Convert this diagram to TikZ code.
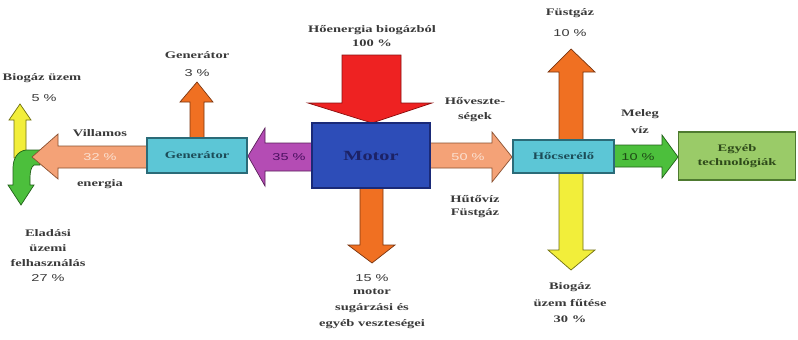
\documentclass[tikz,border=0pt]{standalone}
\usepackage{fontspec}
\setmainfont{Liberation Serif}
\newfontfamily\pctfont{Liberation Sans}
\usepackage{xcolor}
\usepackage{tikz}
\usetikzlibrary{positioning}

\definecolor{txtgray}{HTML}{3A3A3A}
\definecolor{motorblue}{HTML}{2D4DB8}
\definecolor{motorline}{HTML}{1A2A78}
\definecolor{motortxt}{HTML}{1C2266}
\definecolor{redarr}{HTML}{EE2222}
\definecolor{redline}{HTML}{8B1010}
\definecolor{purplearr}{HTML}{B44CB4}
\definecolor{purpleline}{HTML}{5A205A}
\definecolor{purpletxt}{HTML}{4A1060}
\definecolor{cyanbox}{HTML}{5CC6D6}
\definecolor{cyanline}{HTML}{2B6B78}
\definecolor{cyantxt}{HTML}{1C4C58}
\definecolor{salmon}{HTML}{F4A277}
\definecolor{salmonline}{HTML}{8A5030}
\definecolor{salmontxt}{HTML}{FBE0D0}
\definecolor{orangearr}{HTML}{F07022}
\definecolor{orangeline}{HTML}{7A3510}
\definecolor{yellowarr}{HTML}{F2EE3A}
\definecolor{yellowline}{HTML}{707010}
\definecolor{greenarr}{HTML}{4CBF3C}
\definecolor{greenline}{HTML}{206018}
\definecolor{greentxt}{HTML}{1E4A16}
\definecolor{egyebbox}{HTML}{9ACB68}
\definecolor{egyebline}{HTML}{4E7A30}
\definecolor{egyebtxt}{HTML}{2E4A1A}

\begin{document}
\begin{tikzpicture}[x=1pt, y=-1pt,
  stretch/.style={xscale=1.45},
  lbl/.style={stretch, font=\bfseries\fontsize{10}{15}\selectfont, text=txtgray, align=center, inner sep=0pt},
  pct/.style={stretch, font=\pctfont\fontsize{10}{12}\selectfont, text=txtgray, inner sep=0pt},
  box/.style={stretch, draw, line width=1.3pt, inner sep=0pt, align=center, font=\bfseries\fontsize{10}{14}\selectfont},
  blk/.style={line width=0.7pt, line join=miter}]
  \useasboundingbox[fill=white] (0,0) rectangle (798,340);

  % ---- left: split of the electric energy
  \draw[blk, draw=yellowline, fill=yellowarr] (14,158) -- (14,120) -- (9,120) -- (20,104) -- (31,120) -- (26,120) -- (26,158) -- cycle;
  \draw[blk, draw=greenline, fill=greenarr] (13,185) -- (13,168) .. controls (13,158) and (18,151) .. (26,150) -- (40,150) -- (40,165)
    -- (34,165) .. controls (31,167) and (30,172) .. (30,178) -- (30,185) -- (34,185) -- (21,205) -- (8,185) -- cycle;
  \draw[blk, draw=salmonline, fill=salmon] (147,146) -- (58,146) -- (58,134) -- (32,157) -- (58,179) -- (58,168) -- (147,168) -- cycle;
  \node[lbl] (bioz) at (42,78) {Biogáz üzem};
  \node[pct] (pct5) at (44,98) {5 \%};
  \node[lbl] (villamos) at (100,133) {Villamos};
  \node[pct, text=salmontxt] (pct32) at (100,157) {32 \%};
  \node[lbl] (energia) at (100,184) {energia};
  \node[lbl] (eladasi) at (48,248) {Eladási\\üzemi\\felhasználás};
  \node[pct] (pct27) at (48,278) {27 \%};

  % ---- generator
  \draw[blk, draw=orangeline, fill=orangearr] (190,138) -- (190,102) -- (180,102) -- (197,82) -- (213,102) -- (204,102) -- (204,138) -- cycle;
  \node[lbl] (gentop) at (197,55) {Generátor};
  \node[pct] (pct3) at (197,73) {3 \%};
  \draw[blk, draw=purpleline, fill=purplearr] (312,143) -- (265,143) -- (265,128) -- (248,156) -- (265,186) -- (265,171) -- (312,171) -- cycle;
  \node[pct, text=purpletxt] (pct35) at (289,157) {35 \%};

  % ---- motor
  \draw[blk, draw=redline, fill=redarr] (342,55) -- (401,55) -- (401,103) -- (432,103) -- (372,123) -- (308,103) -- (342,103) -- cycle;
  \node[lbl] (hoen) at (372,36.5) {Hőenergia biogázból\\[-1pt]100 \%};
  \draw[blk, draw=orangeline, fill=orangearr] (360,188) -- (360,245) -- (348,245) -- (372,263) -- (395,245) -- (383,245) -- (383,188) -- cycle;
  \node[pct] (pct15) at (372,278) {15 \%};
  \node[lbl, font=\bfseries\fontsize{10}{16}\selectfont] (veszt) at (372,309) {motor\\sugárzási és\\egyéb veszteségei};

  % ---- heat exchanger
  \draw[blk, draw=salmonline, fill=salmon] (430,143) -- (492,143) -- (492,132) -- (512,157) -- (492,182) -- (492,168) -- (430,168) -- cycle;
  \node[pct, text=salmontxt] (pct50) at (468,157) {50 \%};
  \node[lbl] (hovesz) at (475,109.5) {Hőveszte-\\ségek};
  \node[lbl, font=\bfseries\fontsize{10}{13}\selectfont] (hutoviz) at (475,206.5) {Hűtővíz\\Füstgáz};
  \draw[blk, draw=orangeline, fill=orangearr] (559,140) -- (559,72) -- (548,72) -- (571,49) -- (595,72) -- (583,72) -- (583,140) -- cycle;
  \node[lbl] (fustgaz) at (570,13) {Füstgáz};
  \node[pct] (pct10a) at (570,33) {10 \%};
  \draw[blk, draw=yellowline, fill=yellowarr] (559,173) -- (559,250) -- (548,250) -- (571,270) -- (595,250) -- (583,250) -- (583,173) -- cycle;
  \node[lbl, font=\bfseries\fontsize{10}{16.5}\selectfont] (biofut) at (570,303) {Biogáz\\üzem fűtése\\30 \%};
  \draw[blk, draw=greenline, fill=greenarr] (614,145) -- (662,145) -- (662,135) -- (678,157) -- (662,178) -- (662,167) -- (614,167) -- cycle;
  \node[pct, text=greentxt] (pct10b) at (638,157) {10 \%};
  \node[lbl, font=\bfseries\fontsize{10}{17}\selectfont] (meleg) at (640,121.5) {Meleg\\víz};

  % ---- boxes
  \node[box, draw=cyanline, fill=cyanbox, text=cyantxt, minimum width=69pt, minimum height=35pt] (gen) at (197,155.5) {Generátor};
  \node[box, draw=motorline, fill=motorblue, text=motortxt, minimum width=81.4pt, minimum height=65pt,
        font=\bfseries\fontsize{14}{16}\selectfont] (motor) at (371,155.5) {Motor};
  \node[box, draw=cyanline, fill=cyanbox, text=cyantxt, minimum width=69.7pt, minimum height=33pt] (hocs) at (563.5,156.5) {Hőcserélő};
  \node[box, draw=egyebline, fill=egyebbox, text=egyebtxt, minimum width=81pt, minimum height=48pt] (egyeb) at (737,156) {Egyéb\\technológiák};
\end{tikzpicture}
\end{document}
